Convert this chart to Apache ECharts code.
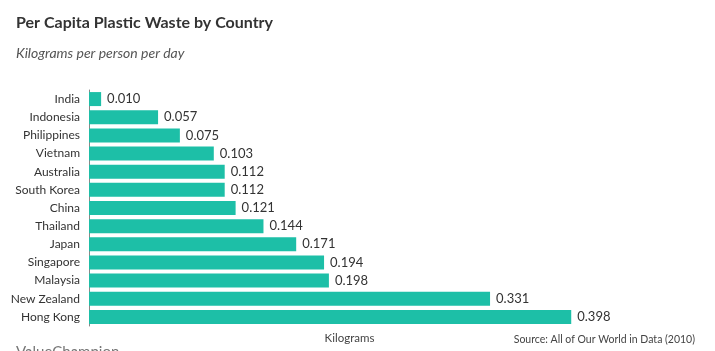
<!DOCTYPE html>
<html>
<head>
<meta charset="utf-8">
<script src="https://cdn.jsdelivr.net/npm/echarts@6/dist/echarts.min.js"></script>
<style>
  html, body { margin: 0; padding: 0; background: #fff; }
  #chart { width: 715px; height: 351px; }
</style>
</head>
<body>
<div id="chart"></div>
<script>
var countries = ['India', 'Indonesia', 'Philippines', 'Vietnam', 'Australia', 'South Korea', 'China',
  'Thailand', 'Japan', 'Singapore', 'Malaysia', 'New Zealand', 'Hong Kong']
var wastePerDay = [0.010, 0.057, 0.075, 0.103, 0.112, 0.112, 0.121, 0.144, 0.171, 0.194, 0.198, 0.331, 0.398]

var myChart = echarts.init(document.getElementById('chart'))

var option = {
  backgroundColor: '#fff',
  textStyle: { fontFamily: 'Lato' },
  title: [{
    text: 'Per Capita Plastic Waste by Country',
    left: 11,
    top: 10,
    textStyle: { fontSize: 16, fontWeight: 'bold', color: '#333', fontFamily: 'Lato' }
  }, {
    text: 'Kilograms per person per day',
    left: 11,
    top: 41,
    textStyle: { fontSize: 14, fontStyle: 'italic', fontWeight: 'normal', color: '#555', fontFamily: 'Lato' }
  }],
  graphic: [{
    type: 'text',
    right: 20,
    top: 334,
    style: { text: 'Source: All of Our World in Data (2010)', fontSize: 10.5, fill: '#444', fontFamily: 'Lato' }
  }, {
    type: 'text',
    left: 16,
    top: 345,
    style: { text: 'ValueChampion', fontSize: 15, fill: '#777', fontFamily: 'Lato' }
  }],
  grid: {
    left: 89,
    right: 105,
    top: 90,
    bottom: 25,
    containLabel: false
  },
  xAxis: {
    type: 'value',
    min: 0,
    max: 0.43,
    name: 'Kilograms',
    nameLocation: 'middle',
    nameGap: 6,
    nameTextStyle: { color: '#444', fontSize: 11.5 },
    axisLine: { show: false },
    axisTick: { show: false },
    axisLabel: { show: false },
    splitLine: { show: false }
  },
  yAxis: {
    type: 'category',
    data: countries,
    inverse: true,
    axisLine: { show: true, lineStyle: { color: '#888', width: 1 } },
    axisTick: { show: false },
    axisLabel: { color: '#333', fontSize: 12, margin: 9 }
  },
  series: [{
    type: 'bar',
    data: wastePerDay,
    barWidth: 14,
    itemStyle: { color: '#1dbfa7' },
    label: {
      show: true,
      position: 'right',
      distance: 6,
      color: '#333',
      fontSize: 13,
      formatter: function (p) { return p.value.toFixed(3) }
    }
  }]
}

myChart.setOption(option)
</script>
</body>
</html>
